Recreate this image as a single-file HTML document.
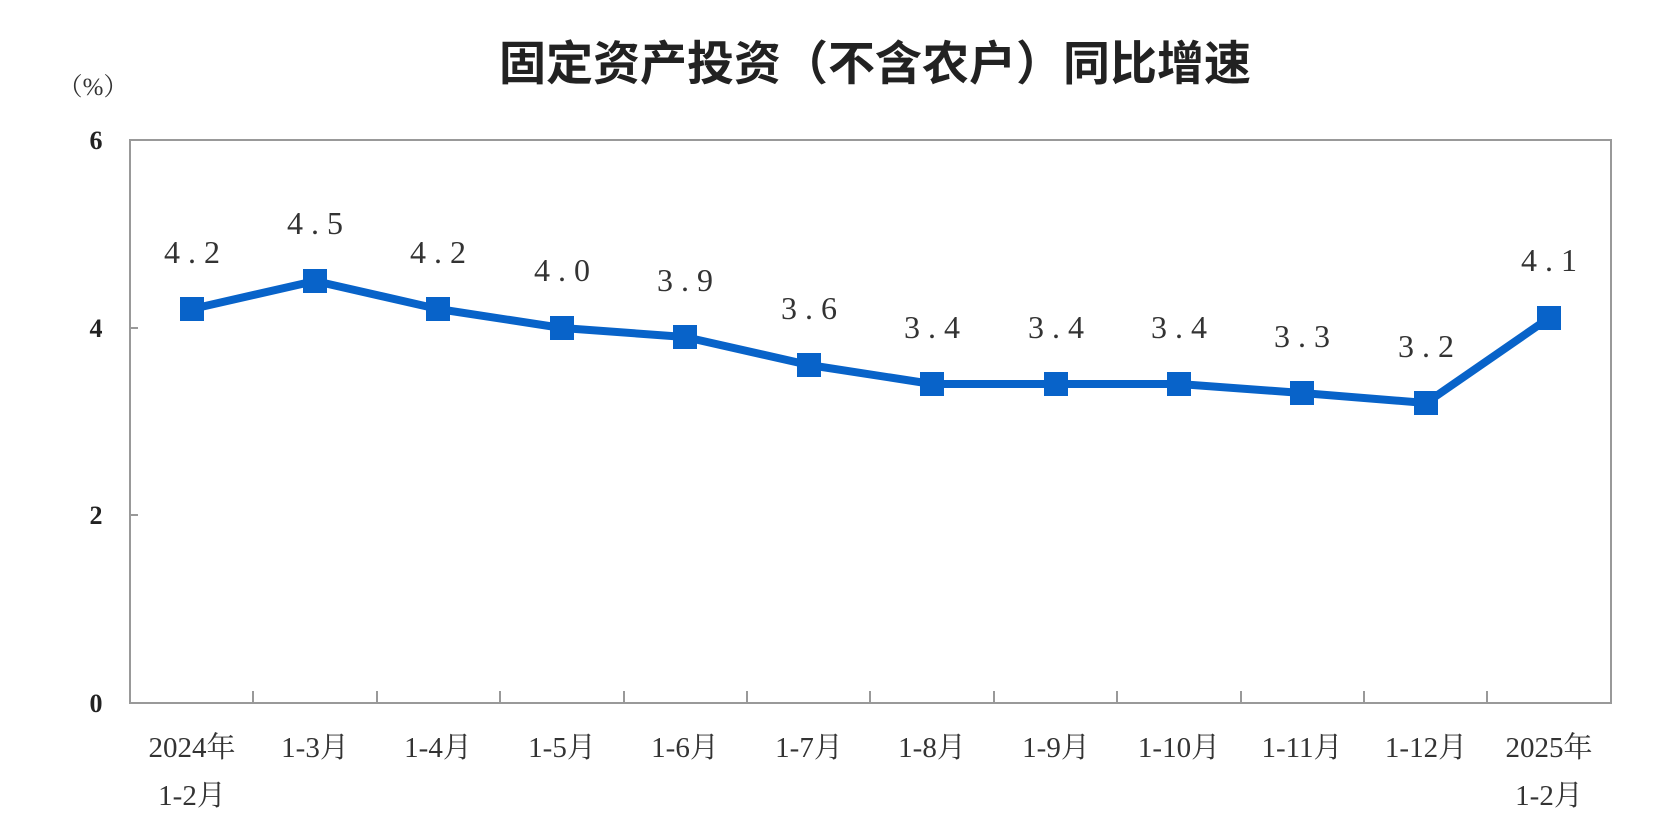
<!DOCTYPE html>
<html><head><meta charset="utf-8"><style>body{margin:0;background:#fff}svg{display:block}</style></head><body>
<svg width="1662" height="834" xmlns="http://www.w3.org/2000/svg">
<text x="875" y="80" text-anchor="middle" font-family="'Noto Sans CJK SC',sans-serif" font-weight="bold" font-size="47" fill="#222">固定资产投资（不含农户）同比增速</text>
<text x="93" y="95" text-anchor="middle" font-family="'Liberation Serif','Noto Serif CJK SC',serif" font-size="25" fill="#333">（%）</text>
<g stroke="#999" stroke-width="2" fill="none">
<rect x="130" y="140" width="1481" height="563"/>
</g>
<g stroke="#999" stroke-width="2">
<line x1="130" y1="140" x2="138" y2="140"/><line x1="130" y1="328" x2="138" y2="328"/><line x1="130" y1="515" x2="138" y2="515"/>
<line x1="253" y1="703" x2="253" y2="691"/><line x1="377" y1="703" x2="377" y2="691"/><line x1="500" y1="703" x2="500" y2="691"/><line x1="624" y1="703" x2="624" y2="691"/><line x1="747" y1="703" x2="747" y2="691"/><line x1="870" y1="703" x2="870" y2="691"/><line x1="994" y1="703" x2="994" y2="691"/><line x1="1117" y1="703" x2="1117" y2="691"/><line x1="1241" y1="703" x2="1241" y2="691"/><line x1="1364" y1="703" x2="1364" y2="691"/><line x1="1487" y1="703" x2="1487" y2="691"/>
</g>
<g font-family="'Liberation Serif',serif" font-weight="bold" font-size="26" fill="#222" text-anchor="middle">
<text x="96" y="149">6</text><text x="96" y="337">4</text><text x="96" y="524">2</text><text x="96" y="712">0</text>
</g>
<g font-family="'Liberation Serif','Noto Serif CJK SC',serif" font-size="29" fill="#333" text-anchor="middle">
<text x="192" y="757">2024年</text><text x="192" y="805">1-2月</text>
<text x="315" y="757">1-3月</text><text x="438" y="757">1-4月</text><text x="562" y="757">1-5月</text><text x="685" y="757">1-6月</text><text x="809" y="757">1-7月</text><text x="932" y="757">1-8月</text><text x="1056" y="757">1-9月</text><text x="1179" y="757">1-10月</text><text x="1302" y="757">1-11月</text><text x="1426" y="757">1-12月</text>
<text x="1549" y="757">2025年</text><text x="1549" y="805">1-2月</text>
</g>
<polyline fill="none" stroke="#0863c9" stroke-width="8" stroke-linejoin="round" points="192,309 315,281 438,309 562,328 685,337 809,365 932,384 1056,384 1179,384 1302,393 1426,403 1549,318"/>
<g fill="#0863c9">
<rect x="180" y="297" width="24" height="24"/><rect x="303" y="269" width="24" height="24"/><rect x="426" y="297" width="24" height="24"/><rect x="550" y="316" width="24" height="24"/><rect x="673" y="325" width="24" height="24"/><rect x="797" y="353" width="24" height="24"/><rect x="920" y="372" width="24" height="24"/><rect x="1044" y="372" width="24" height="24"/><rect x="1167" y="372" width="24" height="24"/><rect x="1290" y="381" width="24" height="24"/><rect x="1414" y="391" width="24" height="24"/><rect x="1537" y="306" width="24" height="24"/>
</g>
<g font-family="'Liberation Serif',serif" font-size="32" fill="#333" text-anchor="middle" letter-spacing="8">
<text x="196" y="263">4.2</text><text x="319" y="234">4.5</text><text x="442" y="263">4.2</text><text x="566" y="281">4.0</text><text x="689" y="291">3.9</text><text x="813" y="319">3.6</text><text x="936" y="338">3.4</text><text x="1060" y="338">3.4</text><text x="1183" y="338">3.4</text><text x="1306" y="347">3.3</text><text x="1430" y="357">3.2</text><text x="1553" y="271">4.1</text>
</g>
</svg>
</body></html>
